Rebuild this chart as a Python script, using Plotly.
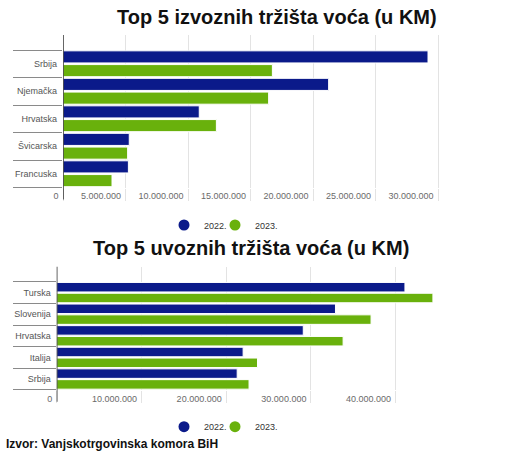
import plotly.graph_objects as go

# ---------------- data ----------------
export_countries = ["Srbija", "Njemačka", "Hrvatska", "Švicarska", "Francuska"]
export_2022 = [29200000, 21250000, 10900000, 5300000, 5230000]
export_2023 = [16750000, 16450000, 12270000, 5170000, 3920000]

import_countries = ["Turska", "Slovenija", "Hrvatska", "Italija", "Srbija"]
import_2022 = [41100000, 32900000, 29100000, 22000000, 21300000]
import_2023 = [44400000, 37100000, 33800000, 23700000, 22700000]

series_names = ["2022.", "2023."]
export_ticks = [0, 5000000, 10000000, 15000000, 20000000, 25000000, 30000000]
import_ticks = [0, 10000000, 20000000, 30000000, 40000000]

title_export = "Top 5 izvoznih tržišta voća (u KM)"
title_import = "Top 5 uvoznih tržišta voća (u KM)"
source_text = "Izvor: Vanjskotrgovinska komora BiH"

# ---------------- style ----------------
W, H = 508, 462
NAVY = "#0b1a8a"
GREEN = "#69b10c"
COLORS = [NAVY, GREEN]
FONT = "Liberation Sans, Arial, sans-serif"
GRID = "#e3e3e3"


def px_x(v):
    return v / W


def px_y(v):
    return 1 - v / H


fig = go.Figure()

idx_e = list(range(len(export_countries)))
idx_i = list(range(len(import_countries)))

for vals, col, name in zip([export_2022, export_2023], COLORS, series_names):
    fig.add_trace(go.Bar(
        y=idx_e, x=vals, orientation="h", name=name,
        marker=dict(color=col, line=dict(color="white", width=1)),
        xaxis="x", yaxis="y", showlegend=False, offsetgroup=name))
for vals, col, name in zip([import_2022, import_2023], COLORS, series_names):
    fig.add_trace(go.Bar(
        y=idx_i, x=vals, orientation="h", name=name,
        marker=dict(color=col, line=dict(color="white", width=1)),
        xaxis="x2", yaxis="y2", showlegend=False, offsetgroup=name))

# legend proxies (circles), one legend per entry for precise placement
legend_ids = [("legend", "legend2"), ("legend3", "legend4")]
for (legs, xa, ya) in [(legend_ids[0], "x", "y"), (legend_ids[1], "x2", "y2")]:
    for leg, col, name in zip(legs, COLORS, series_names):
        fig.add_trace(go.Scatter(
            x=[None], y=[None], mode="markers", name=name,
            marker=dict(color=col, size=11, symbol="circle"),
            xaxis=xa, yaxis=ya, legend=leg, showlegend=True))

# plot areas (pixels)
top_l, top_r, top_t, top_b = 63, 463, 35, 187.5
bot_l, bot_r, bot_t, bot_b = 56.7, 438, 266.7, 389.8

tick_font = dict(family=FONT, size=9, color="#6a6a6a")
cat_font = dict(family=FONT, size=9, color="#555555")


def xaxis_cfg(l, r, ticks, rng, anchor):
    return dict(
        domain=[px_x(l), px_x(r)], range=rng, anchor=anchor,
        tickmode="array", tickvals=ticks, tickformat=",d",
        showgrid=True, gridcolor=GRID, gridwidth=1, zeroline=False,
        ticks="outside", ticklen=12, tickcolor=GRID, tickwidth=1,
        ticklabelposition="outside left", ticklabelshift=-4,
        tickfont=tick_font, showline=False, fixedrange=True, automargin=False)


def yaxis_cfg(t, b, labels, rng, anchor, seplen):
    n = len(labels)
    return dict(
        domain=[px_y(b), px_y(t)], range=rng, anchor=anchor,
        tickmode="array", tickvals=list(range(n)), ticktext=labels,
        ticks="", showgrid=False, zeroline=False, showline=False,
        ticklabelstandoff=5, tickfont=cat_font,
        minor=dict(tickmode="array", tickvals=[i - 0.5 for i in range(n + 1)],
                   ticks="outside", ticklen=seplen, tickcolor="#8a8a8a", tickwidth=1,
                   showgrid=False),
        fixedrange=True, automargin=False)


top_cat = 27.5
bot_cat = 21.6
top_rng = [len(export_countries) - 0.5, len(export_countries) - 0.5 - (top_b - top_t) / top_cat]
bot_rng = [len(import_countries) - 0.5, len(import_countries) - 0.5 - (bot_b - bot_t) / bot_cat]


def legend_cfg(circle_x, cy):
    return dict(orientation="h", x=px_x(circle_x - 20), xanchor="left", y=px_y(cy), yanchor="middle",
                font=dict(family=FONT, size=9, color="#333333"), itemwidth=30,
                bgcolor="rgba(0,0,0,0)", borderwidth=0)


fig.update_layout(
    width=W, height=H, margin=dict(l=0, r=0, t=0, b=0, pad=0, autoexpand=False),
    paper_bgcolor="white", plot_bgcolor="white",
    separators=",.",
    barmode="group", bargap=0.0, bargroupgap=0.12,
    font=dict(family=FONT, color="#333333"),
    xaxis=xaxis_cfg(top_l, top_r, export_ticks, [0, 32000000], "y"),
    yaxis=yaxis_cfg(top_t, top_b, export_countries, top_rng, "x", 49),
    xaxis2=xaxis_cfg(bot_l, bot_r, import_ticks, [0, 45000000], "y2"),
    yaxis2=yaxis_cfg(bot_t, bot_b, import_countries, bot_rng, "x2", 43),
    legend=legend_cfg(184, 225),
    legend2=legend_cfg(235, 225),
    legend3=legend_cfg(184, 426.7),
    legend4=legend_cfg(235, 426.7),
    annotations=[
        dict(text="<b>%s</b>" % title_export, xref="paper", yref="paper", x=px_x(277), y=px_y(17),
             xanchor="center", yanchor="middle", showarrow=False,
             font=dict(family=FONT, size=20, color="#111111")),
        dict(text="<b>%s</b>" % title_import, xref="paper", yref="paper", x=px_x(251), y=px_y(248),
             xanchor="center", yanchor="middle", showarrow=False,
             font=dict(family=FONT, size=20, color="#111111")),
        dict(text="<b>%s</b>" % source_text, xref="paper", yref="paper", x=px_x(4), y=px_y(444),
             xanchor="left", yanchor="middle", showarrow=False,
             font=dict(family=FONT, size=12, color="#111111")),
    ],
    shapes=[
        dict(type="line", xref="x", yref="y domain", x0=0, x1=0, y0=-12 / (top_b - top_t), y1=1,
             line=dict(color="#333333", width=1.5), layer="above"),
        dict(type="line", xref="x2", yref="y2 domain", x0=0, x1=0, y0=-12 / (bot_b - bot_t), y1=1,
             line=dict(color="#333333", width=1.5), layer="above"),
    ],
)

fig.write_html("out.html")
